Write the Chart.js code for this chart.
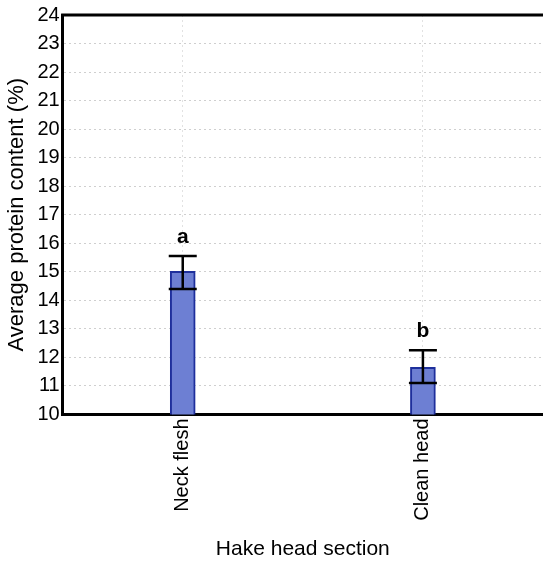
<!DOCTYPE html>
<html lang="en">
<head>
  <meta charset="UTF-8" />
  <title>Average protein content by hake head section</title>
  <script src="https://cdn.jsdelivr.net/npm/chart.js"></script>
  <style>
    body { margin: 0; background: #fff; }
    canvas { display: block; }
  </style>
</head>
<body>
  <canvas id="proteinChart" width="543" height="562"></canvas>

  <script>
    // data
    const sections = ["Neck flesh", "Clean head"];
    const proteinMean = [15.02, 11.65];
    const errLow = [14.4, 11.1];
    const errHigh = [15.55, 12.25];
    const groupLetters = ["a", "b"];
    const yTicks = [10, 11, 12, 13, 14, 15, 16, 17, 18, 19, 20, 21, 22, 23, 24];

    const font = "Arial, 'Liberation Sans', sans-serif";

    // error bars + significance letters
    const errorBars = {
      id: "errorBars",
      afterDatasetsDraw(chart) {
        const ctx = chart.ctx;
        const x = chart.scales.x, y = chart.scales.y;
        ctx.save();
        ctx.strokeStyle = "#000";
        ctx.lineWidth = 2.5;
        sections.forEach((s, i) => {
          const cx = x.getPixelForValue(i);
          const yLo = y.getPixelForValue(errLow[i]);
          const yHi = y.getPixelForValue(errHigh[i]);
          ctx.beginPath();
          ctx.moveTo(cx, yLo); ctx.lineTo(cx, yHi);
          ctx.moveTo(cx - 14, yLo); ctx.lineTo(cx + 14, yLo);
          ctx.moveTo(cx - 14, yHi); ctx.lineTo(cx + 14, yHi);
          ctx.stroke();
          ctx.fillStyle = "#000";
          ctx.font = "bold 21px " + font;
          ctx.textAlign = "center";
          ctx.textBaseline = "alphabetic";
          ctx.fillText(groupLetters[i], cx, yHi - 13);
        });
        // top frame line
        const a = chart.chartArea;
        ctx.lineWidth = 3;
        ctx.beginPath();
        ctx.moveTo(a.left - 1.5, a.top); ctx.lineTo(a.right, a.top);
        ctx.stroke();
        ctx.restore();
      }
    };

    new Chart(document.getElementById("proteinChart"), {
      type: "bar",
      data: {
        labels: sections,
        datasets: [{
          data: proteinMean,
          backgroundColor: "#6d7fd3",
          borderColor: "#1e2f9c",
          borderWidth: 2,
          borderSkipped: false,
          barThickness: 25
        }]
      },
      options: {
        responsive: false,
        animation: false,
        layout: { padding: { top: 1, right: 0, left: 4, bottom: 0 } },
        plugins: {
          legend: { display: false },
          tooltip: { enabled: false }
        },
        scales: {
          x: {
            grid: {
              offset: false,
              color: "#e2e2e2",
              lineWidth: 1,
              drawTicks: false
            },
            border: { color: "#000", width: 3, dash: [2, 3] },
            ticks: {
              color: "#000",
              font: { family: font, size: 20 },
              minRotation: 90,
              maxRotation: 90,
              padding: 4
            },
            title: {
              display: true,
              text: "Hake head section",
              color: "#000",
              font: { family: font, size: 21 },
              padding: { top: 12, bottom: 0 }
            }
          },
          y: {
            min: 10,
            max: 24,
            afterBuildTicks: (axis) => { axis.ticks = yTicks.map(v => ({ value: v })); },
            grid: {
              color: "#cfcfcf",
              lineWidth: 1,
              drawTicks: false
            },
            border: { color: "#000", width: 3, dash: [2, 3] },
            ticks: {
              color: "#000",
              font: { family: font, size: 20 },
              padding: 3
            },
            title: {
              display: true,
              text: "Average protein content (%)",
              color: "#000",
              font: { family: font, size: 22 },
              padding: { top: 0, bottom: 4 }
            }
          }
        }
      },
      plugins: [errorBars]
    });
  </script>
</body>
</html>
